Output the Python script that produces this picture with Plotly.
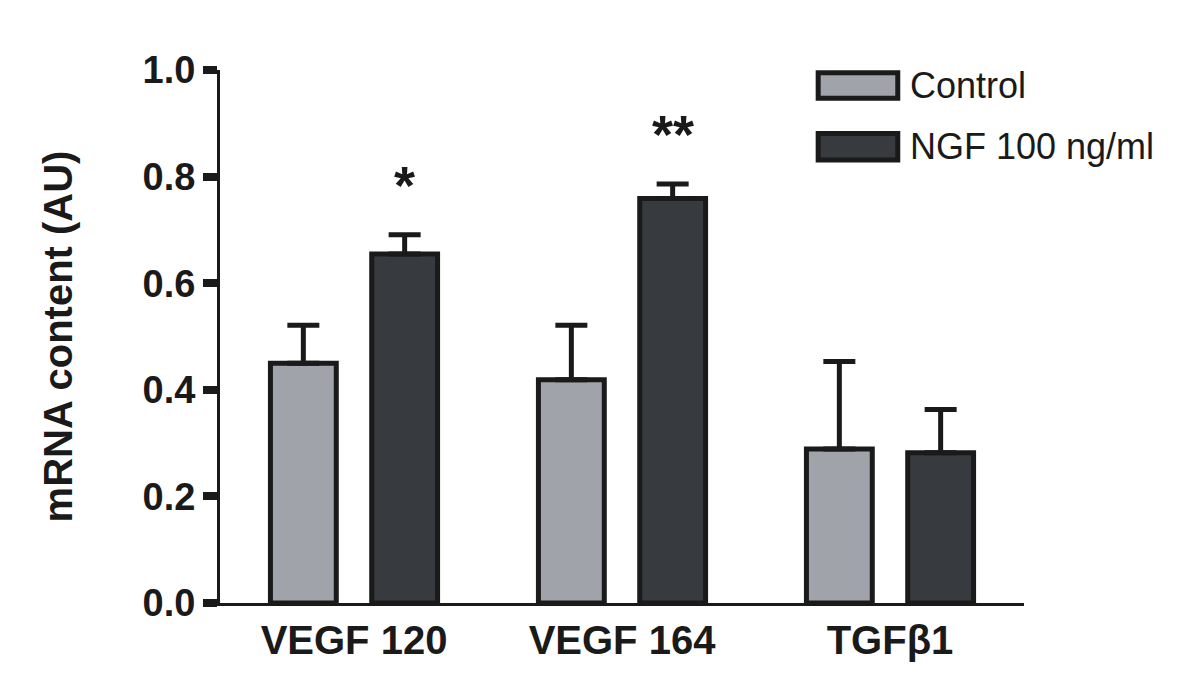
import plotly.graph_objects as go

categories = ["VEGF 120", "VEGF 164", "TGF\u03b21"]
control = [0.450, 0.419, 0.289]
control_err = [0.071, 0.102, 0.164]
ngf = [0.655, 0.759, 0.282]
ngf_err = [0.036, 0.027, 0.081]
stars = ["*", "**", ""]
y_ticks = [0.0, 0.2, 0.4, 0.6, 0.8, 1.0]
series_names = ["Control", "NGF 100 ng/ml"]

CONTROL_COLOR = "#a0a3a9"
NGF_COLOR = "#373b3f"
EDGE = "#1a1a1a"
FONT = "Liberation Sans, Arial, Helvetica, sans-serif"
BARGAP = 0.244

fig = go.Figure()

fig.add_trace(go.Bar(
    x=categories,
    y=control,
    name=series_names[0],
    marker=dict(color=CONTROL_COLOR, line=dict(color=EDGE, width=5)),
    error_y=dict(type="data", symmetric=False, array=control_err,
                 arrayminus=[0] * len(control), color=EDGE, thickness=5, width=16),
))

fig.add_trace(go.Bar(
    x=categories,
    y=ngf,
    name=series_names[1],
    marker=dict(color=NGF_COLOR, line=dict(color=EDGE, width=5)),
    error_y=dict(type="data", symmetric=False, array=ngf_err,
                 arrayminus=[0] * len(ngf), color=EDGE, thickness=5, width=16),
))

# significance stars above NGF bars
offset = (1 - BARGAP) / 4
for i, s in enumerate(stars):
    if s:
        fig.add_annotation(
            x=i + offset, y=ngf[i] + ngf_err[i], xref="x", yref="y",
            text=f"<b>{s}</b>", showarrow=False, yanchor="bottom",
            yshift=18, font=dict(family=FONT, size=54, color=EDGE),
        )

# hand-drawn legend with wide patches (paper coords)
legend_rows = [(0.995, 0.947, CONTROL_COLOR), (0.881, 0.831, NGF_COLOR)]
for (y1, y0, col), name in zip(legend_rows, series_names):
    fig.add_shape(type="rect", xref="paper", yref="paper",
                  x0=0.744, x1=0.843, y0=y0, y1=y1,
                  fillcolor=col, line=dict(color=EDGE, width=5))
    fig.add_annotation(x=0.856, y=(y0 + y1) / 2, xref="paper", yref="paper",
                       text=name, showarrow=False, xanchor="left", yanchor="middle",
                       font=dict(family=FONT, size=36, color=EDGE))

# page body adds an 8px offset, margins compensate for it
fig.update_layout(
    width=1200,
    height=691,
    paper_bgcolor="white",
    plot_bgcolor="white",
    barmode="group",
    bargap=BARGAP,
    bargroupgap=0.35,
    showlegend=False,
    margin=dict(l=212, r=184, t=62, b=96),
    font=dict(family=FONT, color=EDGE),
    xaxis=dict(
        range=[-0.5, 2.5],
        showline=True, linecolor=EDGE, linewidth=3,
        ticks="", showgrid=False, zeroline=False,
        tickfont=dict(family=FONT, size=40, color=EDGE, weight="bold"),
    ),
    yaxis=dict(
        range=[0, 1],
        tickvals=y_ticks,
        ticktext=[f"{v:.1f}" for v in y_ticks],
        showline=True, linecolor=EDGE, linewidth=3,
        ticks="outside", ticklen=14, tickwidth=8, tickcolor=EDGE,
        showgrid=False, zeroline=False,
        tickfont=dict(family=FONT, size=38, color=EDGE, weight="bold"),
        title=dict(text="mRNA content (AU)", standoff=58,
                   font=dict(family=FONT, size=40, color=EDGE, weight="bold")),
    ),
)

fig.write_html("out.html")
